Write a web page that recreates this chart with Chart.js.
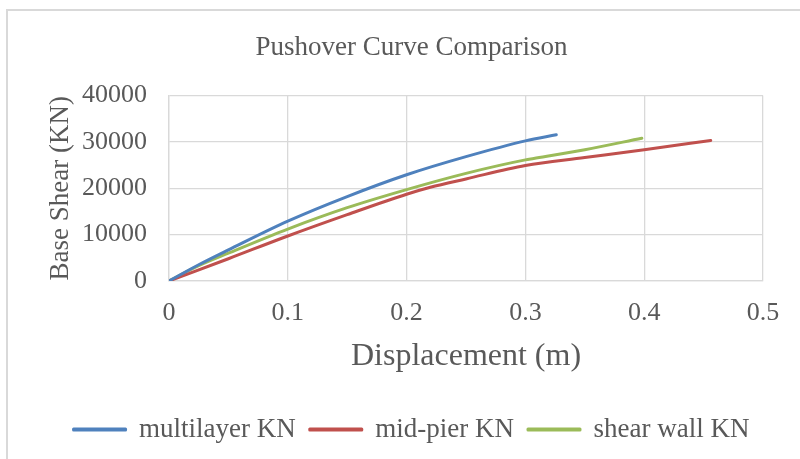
<!DOCTYPE html>
<html>
<head>
<meta charset="utf-8">
<script src="https://cdn.jsdelivr.net/npm/chart.js@4"></script>
<style>
  html, body { margin: 0; padding: 0; background: #fff; }
  #wrap { position: relative; width: 800px; height: 459px; overflow: hidden; }
  #marco { position: absolute; left: 6px; top: 9px; width: 810px; height: 470px; border: 2px solid #d9d9d9; box-sizing: border-box; }
  #grafico { position: absolute; left: 0; top: 0; }
</style>
</head>
<body>
<div id="wrap">
  <div id="marco"></div>
  <canvas id="grafico" width="800" height="459"></canvas>
</div>
<script>
// ── DATOS ──
var multilayerX = [0, 0.025, 0.05, 0.1, 0.15, 0.2, 0.25, 0.3, 0.326];
var multilayerY = [0, 3500, 6700, 12900, 18200, 22900, 26800, 30200, 31500];

var midPierX = [0, 0.05, 0.1, 0.15, 0.2, 0.22, 0.25, 0.3, 0.35, 0.4, 0.456];
var midPierY = [0, 4800, 9700, 14300, 18700, 20200, 22000, 24900, 26600, 28300, 30300];

var shearWallX = [0, 0.025, 0.05, 0.1, 0.15, 0.2, 0.25, 0.3, 0.307, 0.35, 0.398];
var shearWallY = [0, 3300, 6000, 11200, 15800, 19700, 23200, 26100, 26400, 28300, 30770];

var etiquetas = ['multilayer KN', 'mid-pier KN', 'shear wall KN'];
var colores = ['#4f81bd', '#c0504d', '#9bbb59'];

var gris = '#595959';
var fuente = "'Liberation Serif', 'Times New Roman', serif";

function puntos(xs, ys) {
  return xs.map(function(x, i) { return { x: x, y: ys[i] }; });
}

function serie(i, xs, ys) {
  return {
    label: etiquetas[i],
    data: puntos(xs, ys),
    borderColor: colores[i],
    backgroundColor: colores[i],
    borderWidth: 3,
    borderCapStyle: 'round',
    borderJoinStyle: 'round',
    pointRadius: 0,
    showLine: true,
    cubicInterpolationMode: 'monotone'
  };
}

new Chart(document.getElementById('grafico'), {
  type: 'scatter',
  data: {
    datasets: [
      serie(0, multilayerX, multilayerY),
      serie(1, midPierX, midPierY),
      serie(2, shearWallX, shearWallY)
    ]
  },
  options: {
    responsive: false,
    animation: false,
    layout: { padding: { left: 50, right: 27, top: 0, bottom: 6 } },
    plugins: {
      title: {
        display: true,
        text: 'Pushover Curve Comparison',
        color: gris,
        font: { family: fuente, size: 27, weight: 'normal' },
        padding: { top: 32, bottom: 31 }
      },
      legend: {
        position: 'bottom',
        labels: {
          color: gris,
          font: { family: fuente, size: 27 },
          boxWidth: 52,
          boxHeight: 1,
          padding: 14
        }
      },
      tooltip: { enabled: false }
    },
    scales: {
      x: {
        type: 'linear',
        min: 0, max: 0.5,
        afterFit: function(s) { s.height = 121; },
        ticks: {
          stepSize: 0.1,
          color: gris,
          padding: 17,
          font: { family: fuente, size: 26 },
          callback: function(v) { return String(Math.round(v * 10) / 10); }
        },
        grid: { color: '#d9d9d9', lineWidth: 1.3, drawTicks: false },
        border: { color: '#d9d9d9', width: 1.3 },
        title: {
          display: true,
          text: 'Displacement (m)',
          color: gris,
          font: { family: fuente, size: 32 },
          padding: { top: 10, bottom: 26 }
        }
      },
      y: {
        type: 'linear',
        min: 0, max: 40000,
        afterFit: function(s) { s.width = 119; },
        ticks: {
          stepSize: 10000,
          color: gris,
          padding: 22,
          font: { family: fuente, size: 26 },
          callback: function(v) { return String(v); }
        },
        grid: { color: '#d9d9d9', lineWidth: 1.3, drawTicks: false },
        border: { color: '#d9d9d9', width: 1.3 },
        title: {
          display: true,
          text: 'Base Shear (KN)',
          color: gris,
          font: { family: fuente, size: 27 },
          padding: { top: -5, bottom: 0 }
        }
      },
      // eje vacío a la derecha, solo para dejar el margen
      margen: {
        type: 'linear',
        position: 'right',
        display: true,
        afterFit: function(s) { s.width = 10; },
        ticks: { display: false },
        grid: { display: false },
        border: { display: false }
      }
    }
  }
});
</script>
</body>
</html>
